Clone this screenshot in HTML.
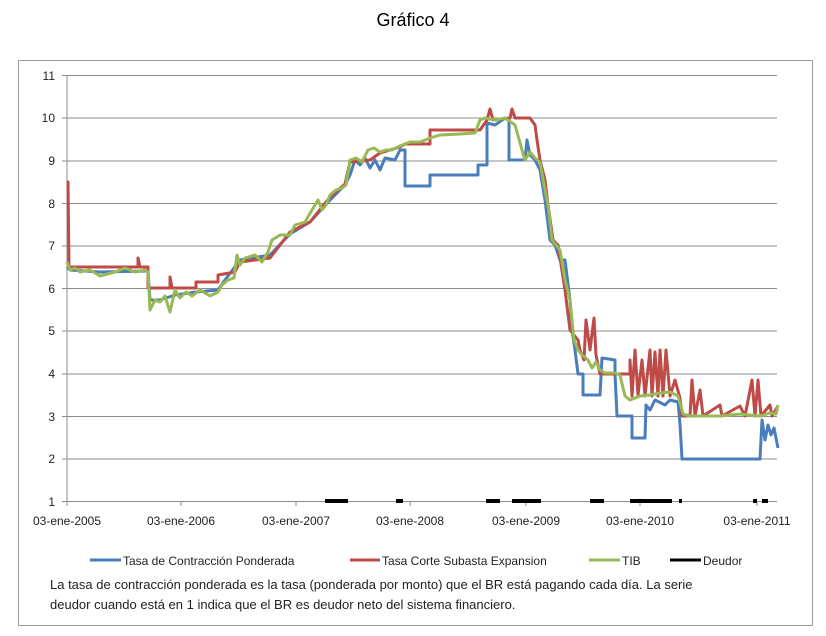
<!DOCTYPE html>
<html><head><meta charset="utf-8"><style>
body{margin:0;background:#fff;width:826px;height:631px;overflow:hidden;font-family:"Liberation Sans",sans-serif}
</style></head><body>
<svg width="826" height="631" xmlns="http://www.w3.org/2000/svg" font-family="Liberation Sans, sans-serif">
<text x="413" y="26" font-size="18" text-anchor="middle">Gráfico 4</text>
<rect x="18.5" y="60.5" width="794" height="565" fill="none" stroke="#999" stroke-width="1"/>
<g stroke="#8c8c8c" stroke-width="1">
<line x1="67" y1="75.5" x2="777" y2="75.5"/><line x1="67" y1="118" x2="777" y2="118"/>
<line x1="67" y1="161" x2="777" y2="161"/><line x1="67" y1="203.5" x2="777" y2="203.5"/>
<line x1="67" y1="246" x2="777" y2="246"/><line x1="67" y1="288.5" x2="777" y2="288.5"/>
<line x1="67" y1="331" x2="777" y2="331"/><line x1="67" y1="374" x2="777" y2="374"/>
<line x1="67" y1="416.5" x2="777" y2="416.5"/><line x1="67" y1="459" x2="777" y2="459"/>
<line x1="67" y1="501.5" x2="777" y2="501.5"/><line x1="67" y1="75" x2="67" y2="506"/>
<line x1="181" y1="501" x2="181" y2="506"/><line x1="296" y1="501" x2="296" y2="506"/><line x1="410" y1="501" x2="410" y2="506"/><line x1="526" y1="501" x2="526" y2="506"/><line x1="640" y1="501" x2="640" y2="506"/><line x1="757" y1="501" x2="757" y2="506"/>
<line x1="62" y1="75.5" x2="67" y2="75.5"/><line x1="62" y1="118" x2="67" y2="118"/><line x1="62" y1="161" x2="67" y2="161"/><line x1="62" y1="203.5" x2="67" y2="203.5"/><line x1="62" y1="246" x2="67" y2="246"/><line x1="62" y1="288.5" x2="67" y2="288.5"/><line x1="62" y1="331" x2="67" y2="331"/><line x1="62" y1="374" x2="67" y2="374"/><line x1="62" y1="416.5" x2="67" y2="416.5"/><line x1="62" y1="459" x2="67" y2="459"/><line x1="62" y1="501.5" x2="67" y2="501.5"/>
</g>
<g font-size="12" text-anchor="end" fill="#222">
<text x="55" y="80">11</text><text x="55" y="122">10</text><text x="55" y="165">9</text><text x="55" y="208">8</text><text x="55" y="250">7</text><text x="55" y="293">6</text><text x="55" y="335">5</text><text x="55" y="378">4</text><text x="55" y="421">3</text><text x="55" y="463">2</text><text x="55" y="506">1</text>
</g>
<g font-size="12" text-anchor="middle" fill="#222">
<text x="67" y="525">03-ene-2005</text><text x="181" y="525">03-ene-2006</text><text x="296" y="525">03-ene-2007</text><text x="410" y="525">03-ene-2008</text><text x="526" y="525">03-ene-2009</text><text x="640" y="525">03-ene-2010</text><text x="757" y="525">03-ene-2011</text>
</g>
<!-- Deudor -->
<g stroke="#000" stroke-width="4">
<line x1="325" y1="501" x2="348" y2="501"/><line x1="396" y1="501" x2="403" y2="501"/><line x1="486" y1="501" x2="500" y2="501"/><line x1="512" y1="501" x2="541" y2="501"/><line x1="590" y1="501" x2="604" y2="501"/><line x1="630" y1="501" x2="672" y2="501"/><line x1="679" y1="501" x2="682" y2="501"/><line x1="753" y1="501" x2="757" y2="501"/><line x1="762" y1="501" x2="768" y2="501"/>
</g>
<!-- Blue -->
<polyline fill="none" stroke="#4a7ebb" stroke-width="3" stroke-linejoin="round" points="67,267 70,270 100,272 148,271 150,300 160,300 175,295 196,292 218,290 225,280 240,260 270,255 290,234 310,222 330,200 345,185 350,175 355,160 360,165 365,158 370,168 375,160 380,170 385,158 395,160 400,150 405,150 405,186 430,186 430,175 478,175 478,165 487,165 487,123 495,125 505,118 509,120 509,160 525,160 527,140 530,155 535,160 540,170 545,200 550,240 555,245 560,260 565,260 570,300 572,330 575,350 578,374 583,374 583,395 600,395 602,358 615,360 615,374 617,416 632,416 632,438 645,438 646,405 650,410 655,400 665,405 670,400 678,402 680,424 682,459 760,459 762,420 765,440 768,425 771,435 774,428 778,448"/>
<!-- Red -->
<polyline fill="none" stroke="#be4b48" stroke-width="3" stroke-linejoin="round" points="67,182 68,182 69,267 138,267 138,258 140,267 148,267 148,288 170,288 170,277 172,288 196,288 196,282 218,282 218,275 235,272 240,262 270,258 290,232 310,222 330,197 345,184 350,162 370,160 380,153 400,147 405,144 430,144 430,130 480,130 487,120 490,109 493,120 510,118 512,109 515,118 530,118 535,125 537,140 540,160 545,180 548,205 553,240 558,245 565,290 570,330 578,340 580,350 584,360 586,320 590,350 594,318 596,355 600,374 630,374 630,360 632,396 635,350 638,395 642,360 645,396 650,350 652,396 655,352 658,396 660,350 663,396 666,350 670,396 675,380 680,398 682,416 690,416 692,380 695,416 700,390 703,416 720,405 722,416 740,406 745,416 752,380 755,416 758,380 761,416 770,405 772,416 778,406"/>
<!-- Green -->
<polyline fill="none" stroke="#98b954" stroke-width="3" stroke-linejoin="round" points="67,262 70,270 75,268 80,272 90,270 100,276 115,272 125,268 135,272 145,270 148,272 150,310 155,300 160,302 165,296 170,312 175,290 180,298 186,292 192,296 200,290 210,296 218,292 222,285 228,280 234,278 237,255 240,265 245,258 255,255 262,262 268,252 272,240 280,235 290,235 295,225 305,222 312,210 318,200 322,210 326,205 330,195 336,190 342,188 346,185 350,160 356,158 362,162 368,150 374,148 380,152 386,150 392,150 400,146 405,144 410,142 420,142 430,138 440,135 460,134 475,133 480,120 485,118 495,120 505,118 515,125 522,150 525,160 530,152 535,158 540,162 545,190 548,205 552,240 556,245 560,250 565,280 570,300 574,340 578,350 582,355 588,360 592,368 596,362 600,370 605,373 615,373 620,375 625,396 630,400 635,398 640,396 650,395 660,393 670,392 678,396 683,414 690,416 720,416 740,414 760,416 770,413 776,414 778,405"/>
<!-- Legend -->
<g font-size="12" fill="#222">
<line x1="90" y1="560" x2="121" y2="560" stroke="#4a7ebb" stroke-width="3"/><text x="123" y="565">Tasa de Contracción Ponderada</text>
<line x1="350" y1="560" x2="380" y2="560" stroke="#be4b48" stroke-width="3"/><text x="382" y="565">Tasa Corte Subasta Expansion</text>
<line x1="589" y1="560" x2="620" y2="560" stroke="#98b954" stroke-width="3"/><text x="622" y="565">TIB</text>
<line x1="670" y1="560" x2="701" y2="560" stroke="#000" stroke-width="3"/><text x="703" y="565">Deudor</text>
<text x="50" y="589" font-size="13">La tasa de contracción ponderada es la tasa (ponderada por monto) que el BR está pagando cada día. La serie</text>
<text x="50" y="609" font-size="13">deudor cuando está en 1 indica que el BR es deudor neto del sistema financiero.</text>
</g>
</svg>
</body></html>
